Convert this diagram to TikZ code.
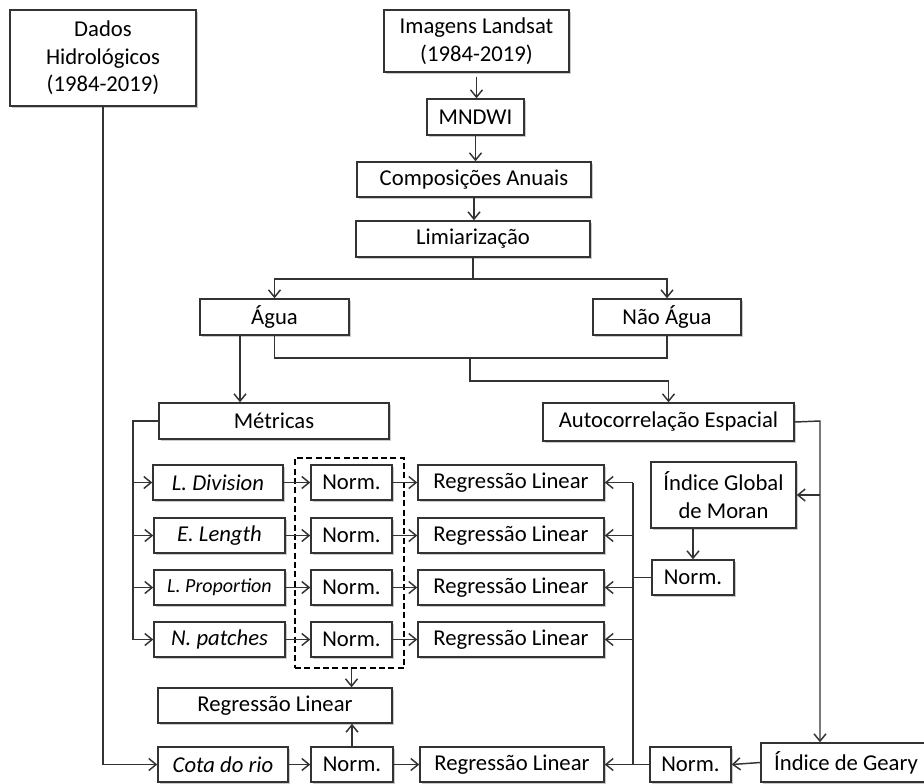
\documentclass[tikz,border=0pt]{standalone}
\usepackage{fontspec}
\setmainfont{Carlito}
\usetikzlibrary{arrows.meta,shadows,calc}
\definecolor{linec}{HTML}{333333}
\tikzset{
  box/.style={draw=linec, line width=1.1pt, fill=white, align=center, inner sep=1pt,
    font=\fontsize{17}{20.6}\selectfont,
    drop shadow={shadow xshift=1.2pt, shadow yshift=-1.2pt, opacity=0.35, fill=black!60}},
  met/.style={font=\fontsize{17}{20.6}\selectfont\itshape},
  metsmall/.style={font=\fontsize{15}{17}\selectfont\itshape},
  conn/.style={draw=linec, line width=1.1pt},
  arr/.style={conn, -{Straight Barb[length=5.5pt,width=9pt]}},
  dashframe/.style={draw=black, line width=1.5pt, dash pattern=on 4.5pt off 2.5pt},
}
\newcommand\bx[7][]{%
  \pgfmathsetmacro\bxw{(#5-#3)*0.75}%
  \pgfmathsetmacro\bxh{(#6-#4)*0.75}%
  \node[box,minimum width=\bxw pt,minimum height=\bxh pt,#1] (#2) at ({(#3+#5)/2},{(#4+#6)/2}) {#7};}
\begin{document}
\begin{tikzpicture}[x=0.75pt,y=-0.75pt]
\useasboundingbox (0,0) rectangle (924,783);
% top part
\bx{dados}{10}{10}{196}{106}{Dados\\Hidrológicos\\(1984-2019)}
\bx{landsat}{384}{10}{569}{72}{Imagens Landsat\\(1984-2019)}
\bx{mndwi}{427}{99}{524}{135}{MNDWI}
\bx{comp}{357}{162}{591}{197}{Composições Anuais}
\bx{lim}{356}{221}{590}{257}{Limiarização}
\bx{agua}{200}{299}{349}{335}{Água}
\bx{naoagua}{593}{299}{741}{335}{Não Água}
\bx{metricas}{159}{403}{389}{439}{Métricas}
\bx{autoc}{543}{403}{794}{441}{Autocorrelação Espacial}
% metric rows
\bx[met]{ldiv}{153}{465}{283}{500}{L. Division}
\bx[met]{elen}{154}{518}{285}{553}{E. Length}
\bx[metsmall]{lprop}{154}{570}{285}{605}{L. Proportion}
\bx[met]{npat}{154}{622}{285}{657}{N. patches}
\bx{n1}{311}{465}{392}{500}{Norm.}
\bx{n2}{311}{518}{392}{553}{Norm.}
\bx{n3}{311}{570}{392}{605}{Norm.}
\bx{n4}{311}{622}{392}{657}{Norm.}
\node[dashframe, minimum width={109*0.75pt}, minimum height={210*0.75pt}, inner sep=0pt] (dframe) at (349.5,563) {};
\bx{rl1}{418}{465}{604}{500}{Regressão Linear}
\bx{rl2}{418}{518}{604}{553}{Regressão Linear}
\bx{rl3}{418}{570}{604}{605}{Regressão Linear}
\bx{rl4}{418}{622}{604}{657}{Regressão Linear}
\bx{moran}{651}{462}{796}{528}{Índice Global\\de Moran}
\bx{normm}{652}{560}{734}{595}{Norm.}
% bottom
\bx{rlb}{158}{688}{392}{723}{Regressão Linear}
\bx[met]{cota}{158}{747}{288}{782}{Cota do rio}
\bx{normc}{311}{747}{393}{782}{Norm.}
\bx{rlc}{420}{747}{604}{782}{Regressão Linear}
\bx{normg}{650}{747}{731}{782}{Norm.}
\bx{geary}{761}{743}{931}{782}{Índice de Geary}
% coordinates
\coordinate (split) at (473,279);
\coordinate (aguaout) at (240,335);
\coordinate (join) at (470,358);
\coordinate (bend) at (470,381);
\coordinate (mbus) at (133,421);
\coordinate (rbus) at (633,483);
\coordinate (rb) at (820,421);
% connectors top
\draw[arr] (landsat.south) ++(0,4) -- (landsat.south |- mndwi.north);
\draw[arr] (mndwi.south) -- (mndwi.south |- comp.north);
\draw[arr] (comp.south) -- (comp.south |- lim.north);
\draw[conn] (lim.south) -- (split);
\draw[arr] (split) -| (agua.north);
\draw[arr] (split) -| (naoagua.north);
\draw[arr] (aguaout) -- (aguaout |- metricas.north);
\draw[conn] (agua.south) |- (join) -| (naoagua.south);
\draw[arr] (join) -- (bend) -| (autoc.north);
% metric bus
\draw[arr] (metricas.west) -- (mbus) |- (npat.west);
\draw[arr] (mbus |- ldiv.west) -- (ldiv.west);
\draw[arr] (mbus |- elen.west) -- (elen.west);
\draw[arr] (mbus |- lprop.west) -- (lprop.west);
% rows
\foreach \a/\b/\c in {ldiv/n1/rl1, elen/n2/rl2, lprop/n3/rl3, npat/n4/rl4}{
  \draw[arr] (\a.east) -- (\b.west);
  \draw[arr] (\b.east) -- (\c.west);
}
\draw[arr] (dframe.south -| n4.south) -- (n4.south |- rlb.north);
% hydrological
\draw[arr] (dados.south) |- (cota.west);
\draw[arr] (cota.east) -- (normc.west);
\draw[arr] (normc.east) -- (rlc.west);
\draw[arr] (normc.north) -- (normc.north |- rlb.south);
% right side
\draw[arr] (autoc.east) -- (rb) -- (rb |- geary.north);
\draw[arr] (rb |- moran.east) -- (moran.east);
\draw[arr] (normm.north |- moran.south) -- (normm.north);
\draw[arr] (geary.west) -- (normg.east);
\draw[conn] (rbus) -- (rbus |- rlc.east);
\draw[conn] (normm.west) -- (rbus |- normm.west);
\draw[conn] (normg.west) -- (rbus |- normg.west);
\foreach \r in {rl1,rl2,rl3,rl4,rlc}{
  \draw[arr] (rbus |- \r.east) -- (\r.east);
}
\end{tikzpicture}
\end{document}
